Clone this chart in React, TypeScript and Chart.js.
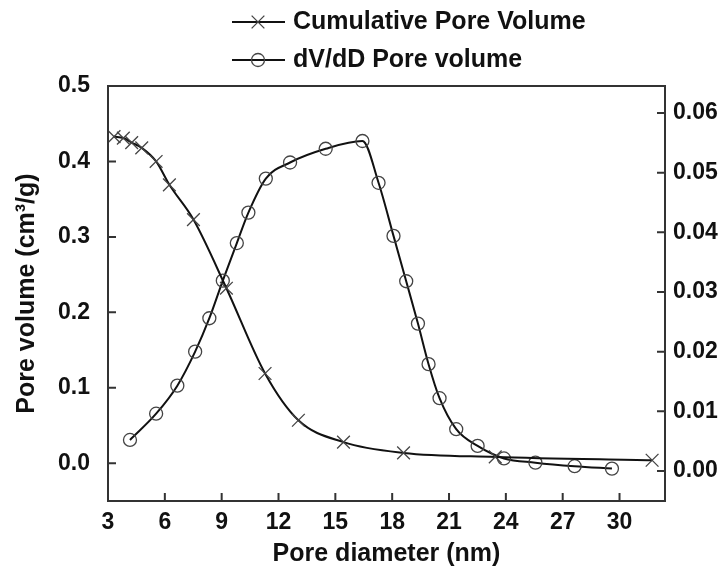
import React, { useEffect, useRef } from "react";
import { Chart, registerables } from "chart.js";

Chart.register(...registerables);

// Cumulative pore volume (left axis, cm3/g)
const CUM_D = [3.32, 3.81, 4.25, 4.78, 5.54, 6.24, 7.51, 9.25, 11.29, 13.05, 15.43, 18.6, 23.44, 31.72];
const CUM_V = [0.433, 0.431, 0.425, 0.418, 0.4, 0.369, 0.323, 0.232, 0.119, 0.057, 0.028, 0.0137, 0.0084, 0.004];

// dV/dD pore volume (right axis)
const DVDD_D = [4.16, 5.54, 6.66, 7.6, 8.35, 9.06, 9.8, 10.41, 11.33, 12.61, 14.49, 16.43, 17.28, 18.07, 18.74, 19.36, 19.92, 20.5, 21.38, 22.51, 23.9, 25.56, 27.63, 29.6];
const DVDD_V = [0.0052, 0.0096, 0.0143, 0.02, 0.0256, 0.0319, 0.0382, 0.0433, 0.049, 0.0517, 0.054, 0.0553, 0.0483, 0.0394, 0.0318, 0.0247, 0.0179, 0.0122, 0.007, 0.0042, 0.0021, 0.0014, 0.0008, 0.0004];

const X_TICKS = [3, 6, 9, 12, 15, 18, 21, 24, 27, 30];
const Y_LEFT_TICKS = [0.0, 0.1, 0.2, 0.3, 0.4, 0.5];
const Y_RIGHT_TICKS = [0.0, 0.01, 0.02, 0.03, 0.04, 0.05, 0.06];

const LEGEND_LABELS = ["Cumulative Pore Volume", "dV/dD Pore volume"];
const X_TITLE = "Pore diameter (nm)";
const Y_TITLE = "Pore volume (cm\u00B3/g)";

const FONT = "'Liberation Sans', Arial, sans-serif";
const INK = "#111";

function drawCross(ctx: CanvasRenderingContext2D, x: number, y: number, r: number) {
  const d = r * Math.SQRT1_2;
  ctx.beginPath();
  ctx.moveTo(x - d, y - d);
  ctx.lineTo(x + d, y + d);
  ctx.moveTo(x - d, y + d);
  ctx.lineTo(x + d, y - d);
  ctx.stroke();
}

const framePlugin = {
  id: "frameAndLegend",
  afterDraw(chart: any) {
    const { ctx, chartArea, scales } = chart;
    const { left, right, top, bottom } = chartArea;
    ctx.save();
    // frame
    ctx.strokeStyle = "#333";
    ctx.lineWidth = 2;
    ctx.strokeRect(left, top, right - left, bottom - top);
    // inward ticks
    ctx.beginPath();
    const tl = 8;
    scales.x.ticks.forEach((t: any) => {
      const px = scales.x.getPixelForValue(t.value);
      ctx.moveTo(px, bottom);
      ctx.lineTo(px, bottom - tl);
    });
    scales.y.ticks.forEach((t: any) => {
      const py = scales.y.getPixelForValue(t.value);
      ctx.moveTo(left, py);
      ctx.lineTo(left + tl, py);
    });
    scales.y1.ticks.forEach((t: any) => {
      const py = scales.y1.getPixelForValue(t.value);
      ctx.moveTo(right, py);
      ctx.lineTo(right - tl, py);
    });
    ctx.stroke();

    // legend
    const rows = [22, 60];
    const x0 = 232, x1 = 285, xm = 258, xt = 293;
    rows.forEach((ry, i) => {
      ctx.strokeStyle = INK;
      ctx.lineWidth = 2;
      ctx.beginPath();
      ctx.moveTo(x0, ry);
      ctx.lineTo(x1, ry);
      ctx.stroke();
      ctx.strokeStyle = "#444";
      ctx.lineWidth = 1.3;
      if (i === 0) {
        drawCross(ctx, xm, ry, 9);
      } else {
        ctx.beginPath();
        ctx.arc(xm, ry, 6.5, 0, Math.PI * 2);
        ctx.stroke();
      }
      ctx.fillStyle = INK;
      ctx.font = `bold 25px ${FONT}`;
      ctx.textBaseline = "middle";
      ctx.textAlign = "left";
      ctx.fillText(LEGEND_LABELS[i], xt, ry);
    });
    ctx.restore();
  },
};

export default function App() {
  const ref = useRef<HTMLCanvasElement | null>(null);

  useEffect(() => {
    if (!ref.current) return;
    const chart = new Chart(ref.current, {
      type: "line",
      data: {
        datasets: [
          {
            label: LEGEND_LABELS[0],
            data: CUM_D.map((d, i) => ({ x: d, y: CUM_V[i] })),
            yAxisID: "y",
            borderColor: INK,
            borderWidth: 2,
            backgroundColor: "transparent",
            pointStyle: "crossRot",
            pointRadius: 9,
            pointBorderWidth: 1.3,
            pointBorderColor: "#444",
            cubicInterpolationMode: "monotone",
            fill: false,
          },
          {
            label: LEGEND_LABELS[1],
            data: DVDD_D.map((d, i) => ({ x: d, y: DVDD_V[i] })),
            yAxisID: "y1",
            borderColor: INK,
            borderWidth: 2,
            backgroundColor: "transparent",
            pointStyle: "circle",
            pointRadius: 6.5,
            pointBorderWidth: 1.3,
            pointBorderColor: "#444",
            pointBackgroundColor: "transparent",
            cubicInterpolationMode: "monotone",
            fill: false,
          },
        ],
      },
      options: {
        responsive: false,
        animation: false,
        layout: { padding: { top: 86, left: 0, right: 0, bottom: 0 } },
        plugins: { legend: { display: false }, tooltip: { enabled: false } },
        scales: {
          x: {
            type: "linear",
            min: 3,
            max: 32.4,
            afterBuildTicks: (s: any) => {
              s.ticks = X_TICKS.map((v) => ({ value: v }));
            },
            afterFit: (s: any) => {
              s.height = 66;
            },
            grid: { display: false, drawTicks: false },
            border: { display: false },
            ticks: {
              padding: 8,
              color: INK,
              font: { family: FONT, size: 23, weight: "bold" },
              maxRotation: 0,
              autoSkip: false,
            },
            title: {
              display: true,
              text: X_TITLE,
              color: INK,
              font: { family: FONT, size: 25, weight: "bold", lineHeight: 1 },
              padding: { top: 0, bottom: 0 },
            },
          },
          y: {
            type: "linear",
            position: "left",
            min: -0.05,
            max: 0.5,
            afterBuildTicks: (s: any) => {
              s.ticks = Y_LEFT_TICKS.map((v) => ({ value: v }));
            },
            afterFit: (s: any) => {
              s.width = 108;
            },
            grid: { display: false, drawTicks: false },
            border: { display: false },
            ticks: {
              padding: 18,
              color: INK,
              font: { family: FONT, size: 23, weight: "bold" },
              callback: (v: any) => Number(v).toFixed(1),
            },
            title: {
              display: true,
              text: Y_TITLE,
              color: INK,
              font: { family: FONT, size: 25, weight: "bold", lineHeight: 1 },
              padding: { top: 15, bottom: 0 },
            },
          },
          y1: {
            type: "linear",
            position: "right",
            min: -0.00503,
            max: 0.06452,
            afterBuildTicks: (s: any) => {
              s.ticks = Y_RIGHT_TICKS.map((v) => ({ value: v }));
            },
            afterFit: (s: any) => {
              s.width = 58;
            },
            grid: { display: false, drawTicks: false },
            border: { display: false },
            ticks: {
              padding: 8,
              color: INK,
              font: { family: FONT, size: 23, weight: "bold" },
              callback: (v: any) => Number(v).toFixed(2),
            },
          },
        },
      },
      plugins: [framePlugin],
    } as any);
    return () => chart.destroy();
  }, []);

  return (
    <div style={{ position: "fixed", left: 0, top: 0, width: 723, height: 567, background: "#fff" }}>
      <canvas ref={ref} width={723} height={567} style={{ display: "block" }} />
    </div>
  );
}
